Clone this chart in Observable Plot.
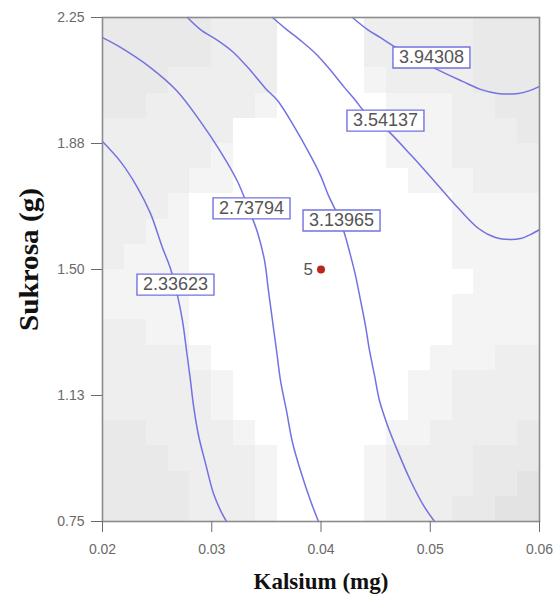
<!DOCTYPE html>
<html>
<head>
<meta charset="utf-8">
<script src="https://cdn.jsdelivr.net/npm/d3@7"></script>
<script src="https://cdn.jsdelivr.net/npm/@observablehq/plot@0.6"></script>
<style>
  body { margin: 0; background: #fff; }
  #chart svg { display: block; }
</style>
</head>
<body>
<div id="chart"></div>
<script>
// Axis ticks
const xTicks = [0.02, 0.03, 0.04, 0.05, 0.06];
const xTickLabels = ["0.02", "0.03", "0.04", "0.05", "0.06"];
const yTicks = [0.75, 1.125, 1.5, 1.875, 2.25];
const yTickLabels = ["0.75", "1.13", "1.50", "1.88", "2.25"];

// Background shading grid (20 x 20), rows from top (Sukrosa 2.25) to bottom (0.75),
// columns from left (Kalsium 0.02) to right (0.06); digits index the gray palette.
const shadeRows = [
  "33333222000022222333",
  "33333222000022222333",
  "33322222000012222333",
  "33222221000001112233",
  "22222200000001112223",
  "22222100000001112222",
  "22221100000000111222",
  "22210000000000001111",
  "22110000000000001111",
  "21110000000000001111",
  "11110000000000000111",
  "11110000000000001111",
  "22110000000000001111",
  "22221000000000011122",
  "22222100000000112222",
  "22222100000000112222",
  "33222210000001122223",
  "33322221000012222333",
  "33332221000012222334",
  "33332221000012223344"
];
const shadePalette = ["#ffffff", "#f4f4f4", "#eeeeee", "#e9e9e9", "#e3e3e3"];

// Contour levels of the response and their polylines (Kalsium, Sukrosa)
const contourLevels = [2.33623, 2.73794, 3.13965, 3.54137, 3.94308];
const contour1 = [[0.0200,1.881],[0.02165,1.821],[0.02320,1.744],[0.02439,1.667],[0.02549,1.565],[0.02622,1.503],[0.02686,1.423],[0.02732,1.348],[0.02769,1.259],[0.02805,1.170],[0.02833,1.095],[0.02879,1.006],[0.02943,0.923],[0.03016,0.833],[0.03080,0.783],[0.03135,0.750]];
const contour2 = [[0.0200,2.190],[0.02165,2.161],[0.02439,2.101],[0.02686,2.030],[0.02897,1.940],[0.03080,1.851],[0.03236,1.762],[0.03327,1.690],[0.03419,1.610],[0.03483,1.527],[0.03519,1.437],[0.03556,1.348],[0.03593,1.259],[0.03629,1.170],[0.03684,1.080],[0.03739,0.985],[0.03812,0.902],[0.03904,0.812],[0.03977,0.750]];
const contour3 = [[0.02778,2.250],[0.02897,2.214],[0.03053,2.182],[0.03199,2.146],[0.03355,2.092],[0.03492,2.039],[0.03602,2.003],[0.03748,1.929],[0.03904,1.839],[0.03995,1.780],[0.04069,1.720],[0.04133,1.676],[0.04206,1.616],[0.04270,1.542],[0.04316,1.482],[0.04362,1.408],[0.04407,1.333],[0.04444,1.259],[0.04490,1.185],[0.04535,1.110],[0.04609,1.036],[0.04700,0.961],[0.04819,0.872],[0.04938,0.798],[0.05039,0.750]];
const contour4 = [[0.03556,2.250],[0.03675,2.217],[0.03812,2.182],[0.03950,2.143],[0.04059,2.104],[0.04206,2.045],[0.04316,2.003],[0.04389,1.973],[0.04499,1.943],[0.04618,1.911],[0.04828,1.839],[0.05048,1.759],[0.05258,1.682],[0.05442,1.622],[0.05597,1.595],[0.05734,1.589],[0.05826,1.592],[0.05917,1.604],[0.06000,1.619]];
const contour5 = [[0.04288,2.250],[0.04426,2.214],[0.04545,2.190],[0.04654,2.167],[0.04847,2.134],[0.05048,2.098],[0.05295,2.060],[0.05460,2.036],[0.05616,2.024],[0.05808,2.024],[0.05917,2.033],[0.06000,2.045]];
const contourPaths = [contour1, contour2, contour3, contour4, contour5];

// Where each contour value is printed
const labelX = [0.02668, 0.03364, 0.04188, 0.04590, 0.05011];
const labelY = [1.455, 1.682, 1.646, 1.943, 2.131];

// Design point
const designX = [0.04];
const designY = [1.50];
const designRun = ["5"];

const xTitle = "Kalsium (mg)";
const yTitle = "Sukrosa (g)";

const blue = "#7272e2";
const sans = "'Liberation Sans', Arial, sans-serif";
const serif = "'Liberation Serif', 'Times New Roman', serif";

const xDomain = [0.02, 0.06];
const yDomain = [0.75, 2.25];
const nRows = shadeRows.length, nCols = shadeRows[0].length;
const cells = [];
shadeRows.forEach((row, r) => {
  [...row].forEach((c, k) => {
    cells.push({
      x1: xDomain[0] + (xDomain[1] - xDomain[0]) * k / nCols,
      x2: xDomain[0] + (xDomain[1] - xDomain[0]) * (k + 1) / nCols,
      y1: yDomain[1] - (yDomain[1] - yDomain[0]) * (r + 1) / nRows,
      y2: yDomain[1] - (yDomain[1] - yDomain[0]) * r / nRows,
      shade: shadePalette[+c]
    });
  });
});

const linePoints = contourPaths.flatMap((pts, i) =>
  pts.map(([x, y]) => ({x, y, level: contourLevels[i]})));
const labels = contourLevels.map((level, i) => ({level, x: labelX[i], y: labelY[i]}));
const design = designX.map((x, i) => ({x, y: designY[i], run: designRun[i]}));

// Fixed-size rectangle used as the label box behind each contour value
const boxSymbol = {
  draw(context) {
    context.moveTo(-38.5, -10.5);
    context.lineTo(38.5, -10.5);
    context.lineTo(38.5, 10.5);
    context.lineTo(-38.5, 10.5);
    context.closePath();
  }
};

const chart = Plot.plot({
  width: 560,
  height: 599,
  marginLeft: 102,
  marginRight: 21,
  marginTop: 17,
  marginBottom: 78,
  style: {fontFamily: sans, color: "#6a6a6a", background: "#fff"},
  x: {domain: xDomain},
  y: {domain: yDomain},
  color: {type: "identity"},
  marks: [
    Plot.rect(cells, {x1: "x1", x2: "x2", y1: "y1", y2: "y2", fill: "shade", shapeRendering: "crispEdges"}),
    Plot.line(linePoints, {x: "x", y: "y", z: "level", stroke: blue, strokeWidth: 1.5, curve: "catmull-rom"}),
    Plot.dot(labels, {x: "x", y: "y", symbol: boxSymbol, r: 10, fill: "#fff", stroke: blue, strokeWidth: 1.4}),
    Plot.text(labels, {x: "x", y: "y", text: d => d.level.toFixed(5), fontSize: 18, fill: "#555", fontFamily: sans}),
    Plot.dot(design, {x: "x", y: "y", r: 4, fill: "#b8271f"}),
    Plot.text(design, {x: "x", y: "y", text: "run", dx: -8, textAnchor: "end", fontSize: 17, fill: "#555", fontFamily: sans}),
    Plot.frame({stroke: "#8c8c8c", strokeWidth: 1.6}),
    Plot.axisX(xTicks, {tickSize: 11, tickPadding: 12, fontSize: 14, label: null,
      tickFormat: d => xTickLabels[xTicks.indexOf(d)]}),
    Plot.axisY(yTicks, {tickSize: 11, tickPadding: 7, fontSize: 14, label: null,
      tickFormat: d => yTickLabels[yTicks.indexOf(d)]}),
    Plot.text([xTitle], {frameAnchor: "bottom", dy: 60, textAnchor: "middle", lineAnchor: "middle",
      fontSize: 23, fontWeight: "bold", fontFamily: serif, fill: "#111"}),
    Plot.text([yTitle], {frameAnchor: "left", dx: -73, dy: -10, rotate: -90, textAnchor: "middle", lineAnchor: "middle",
      fontSize: 28, fontWeight: "bold", fontFamily: serif, fill: "#111"})
  ]
});

// The vertical title is drawn somewhat elongated along its run
d3.select(chart).selectAll("text")
  .filter(function () { return this.textContent === yTitle; })
  .attr("textLength", 143)
  .attr("lengthAdjust", "spacingAndGlyphs");

document.getElementById("chart").appendChild(chart);
</script>
</body>
</html>
